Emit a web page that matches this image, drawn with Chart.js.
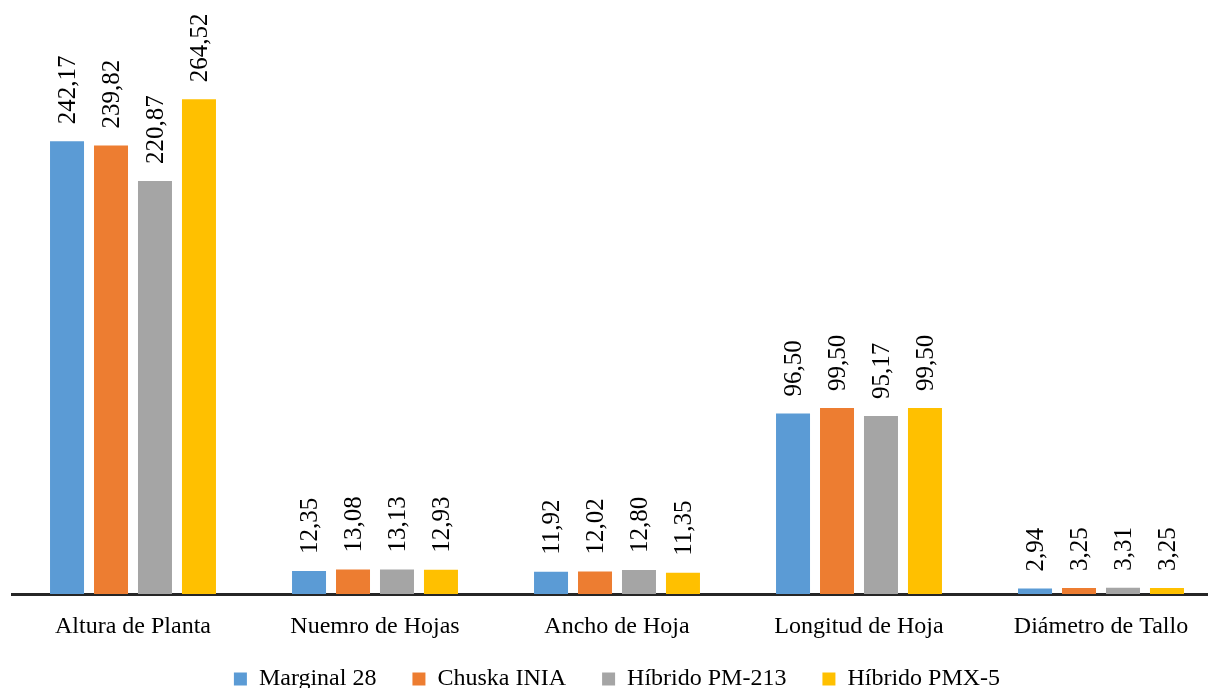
<!DOCTYPE html>
<html>
<head>
<meta charset="utf-8">
<script src="https://cdn.jsdelivr.net/npm/chart.js@4.4.1/dist/chart.umd.min.js"></script>
<style>
  html, body { margin: 0; padding: 0; background: #fff; overflow: hidden; }
  #wrap { width: 1222px; height: 701px; position: relative; }
</style>
</head>
<body>
<div id="wrap"><canvas id="c"></canvas></div>
<script>
// Plant traits measured for each maize variety
const categories = ['Altura de Planta', 'Nuemro de Hojas', 'Ancho de Hoja', 'Longitud de Hoja', 'Diámetro de Tallo'];
const marginal28 = [242.17, 12.35, 11.92, 96.50, 2.94];
const chuskaInia = [239.82, 13.08, 12.02, 99.50, 3.25];
const hibridoPM213 = [220.87, 13.13, 12.80, 95.17, 3.31];
const hibridoPMX5 = [264.52, 12.93, 11.35, 99.50, 3.25];
const seriesNames = ['Marginal 28', 'Chuska INIA', 'Híbrido PM-213', 'Híbrido PMX-5'];
const seriesColors = ['#5B9BD5', '#ED7D31', '#A5A5A5', '#FFC000'];

const SERIF = '"Liberation Serif", "Times New Roman", serif';

// Vertical value labels written above every bar, with a decimal comma
const valueLabels = {
  id: 'valueLabels',
  afterDatasetsDraw(chart) {
    const ctx = chart.ctx;
    ctx.save();
    ctx.font = '25px ' + SERIF;
    ctx.fillStyle = '#000';
    ctx.textAlign = 'left';
    ctx.textBaseline = 'middle';
    chart.data.datasets.forEach((ds, i) => {
      chart.getDatasetMeta(i).data.forEach((bar, j) => {
        const txt = ds.data[j].toFixed(2).replace('.', ',');
        ctx.save();
        ctx.translate(bar.x + 1, bar.y - 17);
        ctx.rotate(-Math.PI / 2);
        ctx.fillText(txt, 0, 0);
        ctx.restore();
      });
    });
    ctx.restore();
  }
};

const allSeries = [marginal28, chuskaInia, hibridoPM213, hibridoPMX5];

new Chart(document.getElementById('c'), {
  type: 'bar',
  data: {
    labels: categories,
    datasets: allSeries.map((vals, i) => ({
      label: seriesNames[i],
      data: vals,
      backgroundColor: seriesColors[i],
      borderWidth: 0,
      categoryPercentage: 0.727,
      barPercentage: 0.773
    }))
  },
  options: {
    responsive: true,
    maintainAspectRatio: false,
    animation: false,
    layout: { padding: { left: 12, right: 0, top: 33, bottom: 0 } },
    scales: {
      x: {
        grid: { display: false, drawTicks: false },
        border: { display: true, color: '#262626', width: 3 },
        ticks: { color: '#000', font: { family: SERIF, size: 24 }, padding: 18 },
        afterFit(scale) {
          // compact axis box; let the category names run past it unclipped
          scale.height = 37;
          scale._computeLabelArea = () => undefined;
        }
      },
      y: {
        display: false,
        min: 0,
        max: 300
      }
    },
    plugins: {
      legend: {
        position: 'bottom',
        labels: {
          color: '#000',
          font: { family: SERIF, size: 24 },
          boxWidth: 13,
          boxHeight: 13,
          padding: 36
        }
      },
      tooltip: { enabled: false }
    }
  },
  plugins: [valueLabels]
});
</script>
</body>
</html>
